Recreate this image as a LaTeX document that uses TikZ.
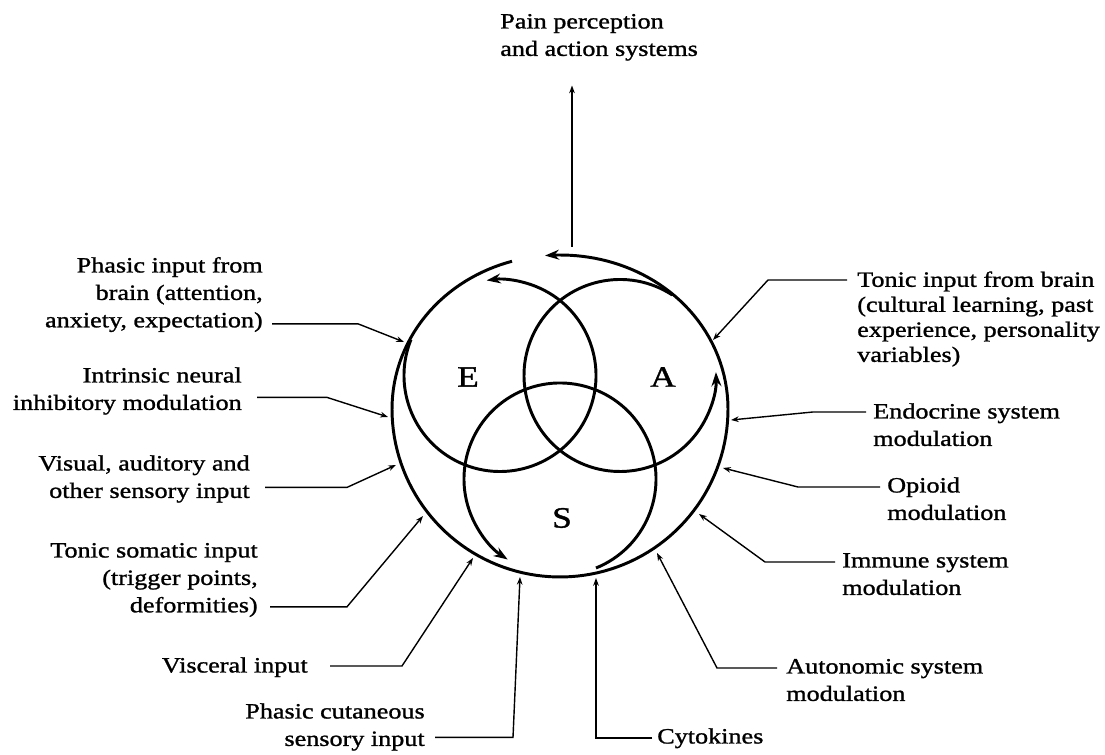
\documentclass[tikz,border=0pt]{standalone}
\usepackage{fontspec}
\setmainfont{Liberation Serif}[FakeStretch=1.2, FakeBold=1.2]
\usetikzlibrary{arrows.meta}

\tikzset{
  ring/.style={line width=2.1pt},
  turn/.style={ring, -{Stealth[length=10pt,width=7pt]}},
  feed/.style={line width=1pt, -{Stealth[length=5.5pt,width=4pt]}},
  lblL/.style={align=right, anchor=north east},
  lblR/.style={align=left, anchor=north west},
  tight/.style={font=\fontsize{15.5}{17.8}\selectfont},
  letter/.style={font=\fontsize{21}{24}\selectfont},
  declare function={ringr(\t)=168-14*pow(max(sin(\t),0),2);}
}

\begin{document}
\begin{tikzpicture}[x=0.025cm, y=0.025cm]

\tikzstyle{every node}+=[inner sep=0pt, font=\fontsize{15.5}{19.5}\selectfont]
\useasboundingbox (0,0) rectangle (1105,755);

% the three overlapping fields
\coordinate (E) at (500,379.5);
\coordinate (A) at (620,379.5);
\coordinate (S) at (560,276);
\draw [turn] ([shift={(158:96)}]E) arc [start angle=158, end angle=458, radius=96];
\draw [turn] ([shift={(57:96)}]A) arc [start angle=57, end angle=362, radius=96];
\draw [turn] ([shift={(292:96)}]S) arc [start angle=292, end angle=597, radius=96];
\node [letter] (lblE) at (468,378) {E};
\node [letter] (lblA) at (663,378) {A};
\node [letter] (lblS) at (562,237) {S};

% outer ring, open at the top
\draw [turn] plot [domain=108:455.6, samples=150]
  ({560+ringr(\x)*cos(\x)}, {346+ringr(\x)*sin(\x)});

% output
\node [lblR] (title) at (500,746) {\strut Pain perception\\and action systems\strut};
\coordinate (ringtop) at (572,508);
\draw [feed, shorten >=15pt] (ringtop) -- (ringtop |- title.south);

% arrow tips on the ring
\coordinate (tphin) at (404,413);
\coordinate (tinhib) at (388,338);
\coordinate (tvis) at (396,290);
\coordinate (ttsom) at (423,239);
\coordinate (tvisc) at (473,197);
\coordinate (tphcut) at (520,178);
\coordinate (ttinb) at (713,415);
\coordinate (tendo) at (731,335);
\coordinate (topio) at (723,287);
\coordinate (timmu) at (699,241);
\coordinate (tauto) at (657,202);
\coordinate (tcyto) at (596,177);

% inputs on the left
\node [lblL] (phin) at (263,502) {\strut Phasic input from\\brain (attention,\\anxiety, expectation)\strut};
\node [lblL] (inhib) at (242,392) {\strut Intrinsic neural\\inhibitory modulation\strut};
\node [lblL] (visual) at (250,304) {\strut Visual, auditory and\\other sensory input\strut};
\node [lblL] (tsom) at (258,217) {\strut Tonic somatic input\\(trigger points,\\deformities)\strut};
\node [lblL] (visc) at (308,102) {\strut Visceral input\strut};
\node [lblL] (phcut) at (425,56) {\strut Phasic cutaneous\\sensory input\strut};

\draw [feed] ([shift={(9,12)}]phin.south east) -- ++(86,0) -- (tphin);
\draw [feed] ([shift={(15,21)}]inhib.south east) -- ++(70,0) -- (tinhib);
\draw [feed] ([shift={(15,19)}]visual.south east) -- ++(82,0) -- (tvis);
\draw [feed] ([shift={(12,14)}]tsom.south east) -- ++(77,0) -- (ttsom);
\draw [feed] ([shift={(22,15)}]visc.south east) -- ++(72,0) -- (tvisc);
\draw [feed] ([shift={(10,17)}]phcut.south east) -- ++(78,0) -- (tphcut);

% inputs on the right
\node [lblR, tight] (tinb) at (857,486) {\strut Tonic input from brain\\(cultural learning, past\\experience, personality\\variables)\strut};
\node [lblR] (endo) at (873,356) {\strut Endocrine system\\modulation\strut};
\node [lblR] (opio) at (887,282) {\strut Opioid\\modulation\strut};
\node [lblR] (immu) at (842,207) {\strut Immune system\\modulation\strut};
\node [lblR] (auto) at (786,101) {\strut Autonomic system\\modulation\strut};
\node [lblR] (cyto) at (657,31) {\strut Cytokines\strut};

\draw [feed] ([shift={(-10,-11)}]tinb.north west) -- ++(-79,0) -- (ttinb);
\draw [feed] ([shift={(-7,-13)}]endo.north west) -- ++(-53,0) -- (tendo);
\draw [feed] ([shift={(-7,-14)}]opio.north west) -- ++(-82,0) -- (topio);
\draw [feed] ([shift={(-7,-14)}]immu.north west) -- ++(-70,0) -- (timmu);
\draw [feed] ([shift={(-9,-14)}]auto.north west) -- ++(-60,0) -- (tauto);
\draw [feed] ([shift={(-5,-14)}]cyto.north west) -- ++(-56,0) -- (tcyto);

\end{tikzpicture}
\end{document}
